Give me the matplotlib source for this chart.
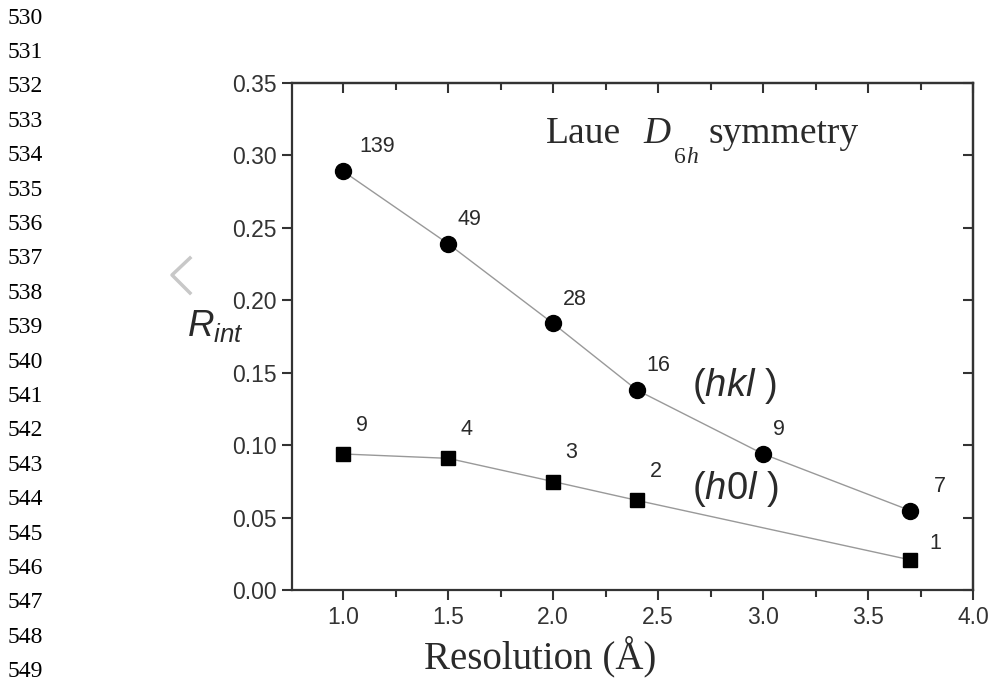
import matplotlib
matplotlib.use('Agg')
import matplotlib.pyplot as plt
from matplotlib.lines import Line2D
from matplotlib.ticker import MultipleLocator, FormatStrFormatter

plt.rcParams['font.family'] = 'Liberation Sans'
plt.rcParams['mathtext.fontset'] = 'custom'
plt.rcParams['mathtext.it'] = 'Liberation Sans:italic'
plt.rcParams['mathtext.rm'] = 'Liberation Sans'

# (hkl) reflections, circles
hkl_res = [1.0, 1.5, 2.0, 2.4, 3.0, 3.7]
hkl_rint = [0.289, 0.239, 0.184, 0.138, 0.094, 0.055]
hkl_count = ['139', '49', '28', '16', '9', '7']

# (h0l) reflections, squares
h0l_res = [1.0, 1.5, 2.0, 2.4, 3.7]
h0l_rint = [0.094, 0.091, 0.075, 0.062, 0.021]
h0l_count = ['9', '4', '3', '2', '1']

line_numbers = list(range(530, 550))

ink = '#2a2a2a'
W, H = 990, 684

def px(x, y):
    # figure fraction from pixel position (top-left origin)
    return x / W, 1 - y / H

fig = plt.figure(figsize=(9.9, 6.84), dpi=100)
ax = fig.add_axes([0.295, 0.137, 0.688, 0.742])

ax.plot(hkl_res, hkl_rint, color='#999999', lw=1.0, marker='o', ms=11.5,
        mfc='black', mec='black', zorder=3)
ax.plot(h0l_res, h0l_rint, color='#999999', lw=1.0, marker='s', ms=10,
        mfc='black', mec='black', zorder=3)

# count labels next to each point
for i, (x, y) in enumerate(zip(hkl_res, hkl_rint)):
    dx = 17 if i == len(hkl_res) - 1 else 7
    if i == 0:
        dx = 12
    ax.annotate(hkl_count[i], (x, y), xytext=(dx, 10), textcoords='offset points',
                fontsize=15.5, color=ink, ha='left', va='bottom')
for i, (x, y) in enumerate(zip(h0l_res, h0l_rint)):
    last = i == len(h0l_res) - 1
    dx = 14 if last else 9
    dy = 4 if last else 13
    ax.annotate(h0l_count[i], (x, y), xytext=(dx, dy), textcoords='offset points',
                fontsize=15.5, color=ink, ha='left', va='bottom')

ax.set_xlim(0.757, 4.0)
ax.set_ylim(0.0, 0.35)
ax.xaxis.set_major_locator(MultipleLocator(0.5))
ax.xaxis.set_minor_locator(MultipleLocator(0.25))
ax.yaxis.set_major_locator(MultipleLocator(0.05))
ax.yaxis.set_major_formatter(FormatStrFormatter('%.2f'))
ax.xaxis.set_major_formatter(FormatStrFormatter('%.1f'))

ax.tick_params(axis='both', which='major', direction='out', length=7, width=1.5,
               labelsize=16.5, color='#333333', labelcolor='#333333', pad=4)
ax.tick_params(axis='x', which='minor', direction='out', length=5, width=1.5,
               color='#333333')

# inward ticks on top and right
top = ax.secondary_xaxis('top')
top.xaxis.set_major_locator(MultipleLocator(0.5))
top.xaxis.set_minor_locator(MultipleLocator(0.25))
top.tick_params(which='both', direction='in', length=7, width=1.5, color='#333333',
                labeltop=False)
top.tick_params(which='minor', length=5)
right = ax.secondary_yaxis('right')
right.yaxis.set_major_locator(MultipleLocator(0.05))
right.tick_params(direction='in', length=7, width=1.5, color='#333333', labelright=False)
for a in (ax, top, right):
    for s in a.spines.values():
        s.set_linewidth(1.6)
        s.set_color('#333333')

fig.text(*px(540, 668), 'Resolution (Å)', fontsize=28, family='Liberation Serif',
         ha='center', va='baseline', color=ink)
fig.text(*px(187, 336), r'$R_{int}$', fontsize=26.5, ha='left', va='baseline', color=ink)

# "Laue D6h symmetry" built in pieces so the subscript sits low like the original
serif = 'Liberation Serif'
fig.text(*px(546, 143), 'Laue', fontsize=27, family=serif, ha='left', va='baseline', color=ink)
fig.text(*px(643, 143), 'D', fontsize=27, family=serif, style='italic',
         ha='left', va='baseline', color=ink)
fig.text(*px(674, 163), '6', fontsize=17, family=serif, ha='left', va='baseline', color=ink)
fig.text(*px(686, 163), 'h', fontsize=17, family=serif, style='italic',
         ha='left', va='baseline', color=ink)
fig.text(*px(709, 143), 'symmetry', fontsize=27, family=serif, ha='left', va='baseline',
         color=ink)

ax.text(2.66, 0.141, r'($\mathit{hkl}$ )', fontsize=27.5, ha='left', va='center', color=ink)
ax.text(2.66, 0.070, r'($\mathit{h0l}$ )', fontsize=27.5, ha='left', va='center', color=ink)

# faint watermark chevron
fig.add_artist(Line2D([190 / W, 172 / W, 190 / W], [1 - 258 / H, 1 - 275 / H, 1 - 293 / H],
                      transform=fig.transFigure, color='#c8c8c8', lw=2.5))

# manuscript line numbers down the left margin
for k, n in enumerate(line_numbers):
    fig.text(*px(8, 18 + k * 34.4), str(n), fontsize=17,
             family='Liberation Serif', ha='left', va='center')

fig.savefig('out.png', dpi=100)
